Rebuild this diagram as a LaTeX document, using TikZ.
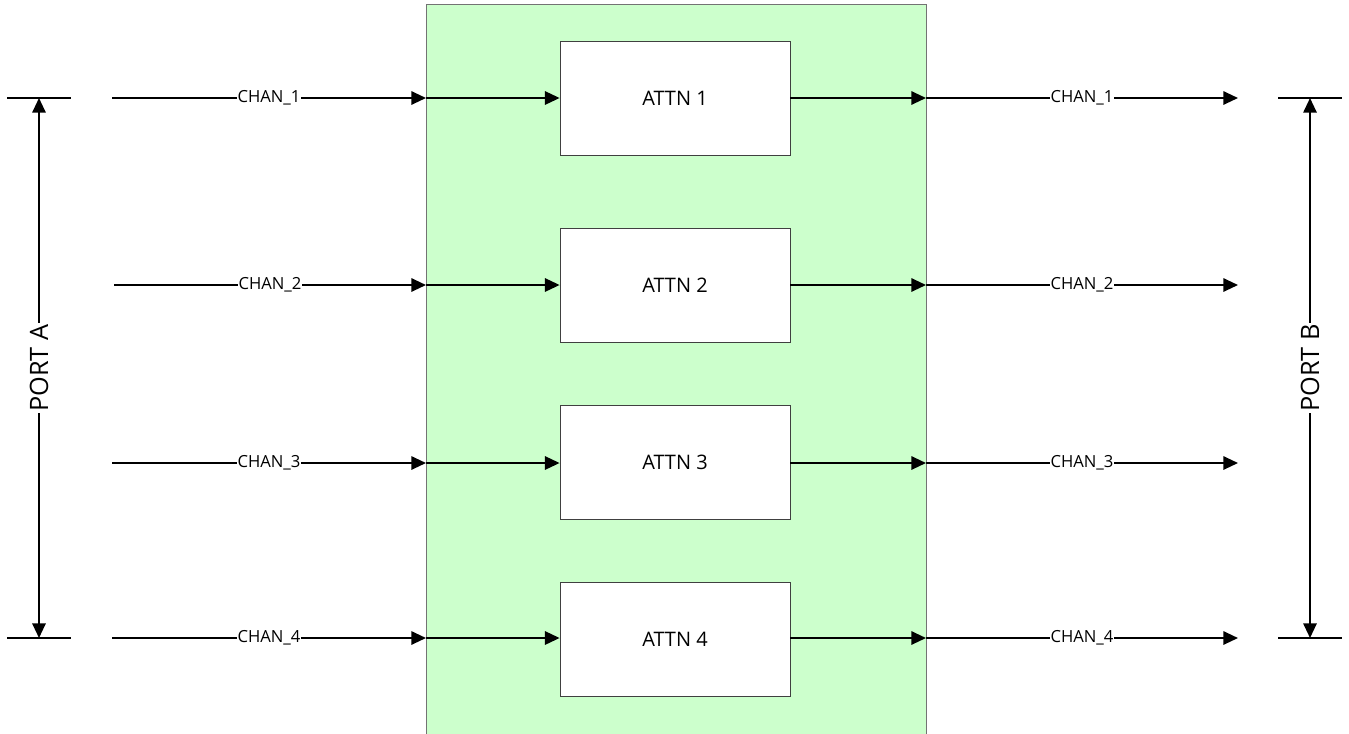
\documentclass[tikz,border=0pt]{standalone}
\usepackage{fontspec}
\setmainfont{Open Sans}
\usetikzlibrary{arrows.meta}
\begin{document}
\begin{tikzpicture}[x=0.75pt,y=-0.75pt,
  wire/.style={line width=1.5pt,-{Triangle[length=11pt,width=10pt]}},
  portline/.style={line width=1.5pt,{Triangle[length=11pt,width=10pt]}-{Triangle[length=11pt,width=10pt]}},
  tick/.style={line width=1.5pt},
  chanlbl/.style={fill=white,inner sep=0.6pt,font=\fontsize{12.5}{15}\selectfont},
  portlbl/.style={fill=white,inner sep=1pt,rotate=90,font=\fontsize{19}{22}\selectfont},
  attn/.style={draw=black!75,line width=0.6pt,fill=white,minimum width=172.5pt,minimum height=85.5pt,inner sep=0pt,font=\fontsize{15}{18}\selectfont},
  core/.style={draw=black!55,line width=0.75pt,fill=green!20,minimum width=375pt,minimum height=560pt,inner sep=0pt}
]
\useasboundingbox (0,0) rectangle (1349,733);
\clip (0,0) rectangle (1349,733);
\node[core] (core) at (676,378) {};
\node[attn] (a1) at (675,98) {ATTN 1};
\node[attn] (a2) at (675,285) {ATTN 2};
\node[attn] (a3) at (675,462.5) {ATTN 3};
\node[attn] (a4) at (675,639) {ATTN 4};
% coordinates
\coordinate (l1) at (112,98);
\coordinate (l2) at (114,285);
\coordinate (l3) at (112,463);
\coordinate (l4) at (112,638);
\coordinate (e1) at (426,98);
\coordinate (e2) at (426,285);
\coordinate (e3) at (426,463);
\coordinate (e4) at (426,638);
\coordinate (x1) at (926,98);
\coordinate (x2) at (926,285);
\coordinate (x3) at (926,463);
\coordinate (x4) at (926,638);
\coordinate (r1) at (1238,98);
\coordinate (r2) at (1238,285);
\coordinate (r3) at (1238,463);
\coordinate (r4) at (1238,638);
\foreach \i in {1,2,3,4}{
  \draw[wire] (l\i) -- node[chanlbl]{CHAN\_\i} (e\i);
  \draw[wire] (e\i) -- (e\i -| a\i.west);
  \draw[wire] (x\i -| a\i.east) -- (x\i);
  \draw[wire] (x\i) -- node[chanlbl]{CHAN\_\i} (r\i);
}
% port A
\coordinate (pat1) at (7,98);
\coordinate (pat2) at (71,98);
\coordinate (pab1) at (7,638);
\coordinate (pab2) at (71,638);
\coordinate (pa1) at (39,98);
\coordinate (pa2) at (39,638);
\draw[tick] (pat1) -- (pat2);
\draw[tick] (pab1) -- (pab2);
\draw[portline] (pa1) -- node[portlbl]{PORT A} (pa2);
% port B
\coordinate (pbt1) at (1278,98);
\coordinate (pbt2) at (1342,98);
\coordinate (pbb1) at (1278,638);
\coordinate (pbb2) at (1342,638);
\coordinate (pb1) at (1310,98);
\coordinate (pb2) at (1310,638);
\draw[tick] (pbt1) -- (pbt2);
\draw[tick] (pbb1) -- (pbb2);
\draw[portline] (pb1) -- node[portlbl]{PORT B} (pb2);
\end{tikzpicture}
\end{document}
